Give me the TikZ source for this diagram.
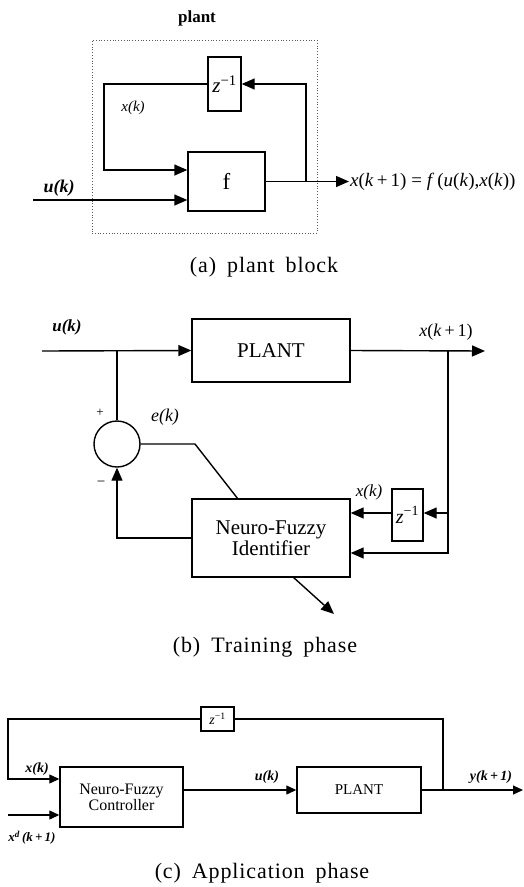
\documentclass[tikz,border=0pt]{standalone}
\usepackage{fontspec}
\setmainfont{Liberation Serif}
\usepackage{tikz}
\usetikzlibrary{positioning,arrows.meta}
\newcommand{\fs}[1]{\fontsize{#1}{#1}\selectfont}
\newcommand{\iv}[1]{\textit{#1}}
\newcommand{\capfont}{\fs{22}\addfontfeature{LetterSpace=4}\spaceskip=11pt\relax}

\begin{document}
\begin{tikzpicture}[x=1pt,y=-1pt,
	blk/.style={draw, line width=1.4pt, inner sep=0pt, align=center},
	ln/.style={line width=1.4pt},
	arr/.style={line width=1.4pt, -{Triangle[length=13pt,width=11pt]}},
	sarr/.style={line width=1.2pt, -{Triangle[length=10pt,width=9pt]}},
	frame/.style={draw, dotted, line width=0.8pt, gray!70!black, inner sep=0pt},
	captxt/.style={font=\capfont}]
	\useasboundingbox (0,0) rectangle (524,887);

	% (a) plant block
	\node[font=\bfseries\fs{17}] (plantlbl) at (197,18) {plant};
	\node[frame, minimum width=225pt, minimum height=193pt] (pframe) at (204.5,136.5) {};
	\node[blk, minimum width=33pt, minimum height=54pt, font=\fs{21}] (za) at (224.5,84) {\iv{z}\textsuperscript{−1}};
	\node[blk, minimum width=77pt, minimum height=59pt, font=\fs{23}] (fa) at (226.5,181.5) {f};
	\coordinate (ua) at (33,200);
	\coordinate (outa) at (349,181.5);
	\coordinate (bra) at (306,181.5);

	\draw[arr] (ua) -- (ua -| fa.west);
	\draw[arr] (za.west) -- (104,84) -- (104,170) -- (fa.west |- 0,170);
	\draw[arr] (fa.east) -- (outa);
	\draw[arr] (bra) -- (bra |- za.east) -- (za.east);

	\node[font=\bfseries\itshape\fs{18}] (uka) at (59,188) {u(k)};
	\node[font=\itshape\fs{15}] (xka) at (133,108) {x(k)};
	\node[anchor=west, font=\fs{19}, inner sep=1pt] (eqa) at (outa) {\iv{x}(\iv{k}\,+\,1) = \iv{f}\,(\iv{u}(\iv{k}),\iv{x}(\iv{k}))};
	\node[captxt] (capa) at (264,267) {(a) plant block};

	% (b) training phase
	\node[blk, minimum width=158pt, minimum height=63pt, font=\fs{21}] (pb) at (271,350.5) {PLANT};
	\node[blk, minimum width=158pt, minimum height=78pt, font=\fs{21}] (nfb) at (271,538) {Neuro-Fuzzy\\Identifier};
	\node[blk, minimum width=31pt, minimum height=52pt, font=\fs{20}] (zb) at (407.5,515) {\iv{z}\textsuperscript{−1}};
	\node[draw, circle, line width=1.4pt, minimum size=46pt, inner sep=0pt] (sum) at (117,444) {};
	\coordinate (ub) at (42,351);
	\coordinate (outb) at (485,351);
	\coordinate (brb) at (448,351);
	\coordinate (idout) at (334,614);

	\draw[arr] (ub) -- (pb.west);
	\draw[arr] (pb.east) -- (outb);
	\draw[ln] (sum.north) -- (sum.north |- ub);
	\draw[arr] (brb) -- (448,553) -- (nfb.east |- 0,553);
	\draw[arr] (448,513) -- (zb.east |- 0,513);
	\draw[arr] (zb.west |- 0,513) -- (nfb.east |- 0,513);
	\draw[arr] (nfb.west) -- (sum.south |- nfb.west) -- (sum.south);
	\draw[ln] (sum.east) -- (195,444) -- (238,499);
	\draw[arr] (293,577) -- (idout);

	\node[font=\bfseries\itshape\fs{17}] (ukb) at (67,327) {u(k)};
	\node[font=\fs{18}] (xk1b) at (446,332) {\iv{x}(\iv{k}\,+\,1)};
	\node[font=\itshape\fs{18}] (ekb) at (165,417) {e(k)};
	\node[font=\itshape\fs{17}] (xkb) at (369,492) {x(k)};
	\node[font=\fs{13}] (plus) at (100,413) {+};
	\node[font=\fs{15}] (minus) at (101,484) {−};
	\node[captxt] (capb) at (265,647) {(b) Training phase};

	% (c) application phase
	\node[blk, minimum width=33pt, minimum height=24pt, font=\fs{14}] (zc) at (217.5,719) {\iv{z}\textsuperscript{−1}};
	\node[blk, minimum width=123pt, minimum height=60pt, font=\fs{16}] (nfc) at (121.5,797) {Neuro-Fuzzy\\Controller};
	\node[blk, minimum width=124pt, minimum height=46pt, font=\fs{15}] (pc) at (359,790) {PLANT};
	\coordinate (tl) at (8,719);
	\coordinate (xdin) at (8,815);
	\coordinate (outc) at (523,790);
	\coordinate (brc) at (443,790);

	\draw[sarr] (zc.west) -- (tl) -- (8,779) -- (nfc.west |- 0,779);
	\draw[ln] (zc.east) -- (brc |- zc.east) -- (brc);
	\draw[sarr] (xdin) -- (nfc.west |- xdin);
	\draw[sarr] (nfc.east |- pc.west) -- (pc.west);
	\draw[sarr] (pc.east) -- (outc);

	\node[font=\bfseries\itshape\fs{14}] (xkc) at (37,769) {x(k)};
	\node[font=\bfseries\itshape\fs{13}] (xdc) at (32,838) {x\textsuperscript{d}\,(k\,+\,1)};
	\node[font=\bfseries\itshape\fs{14}] (ukc) at (267,777) {u(k)};
	\node[font=\bfseries\itshape\fs{14}] (ykc) at (491,777) {y(k\,+\,1)};
	\node[captxt] (capc) at (262,873) {(c) Application phase};
\end{tikzpicture}
\end{document}
